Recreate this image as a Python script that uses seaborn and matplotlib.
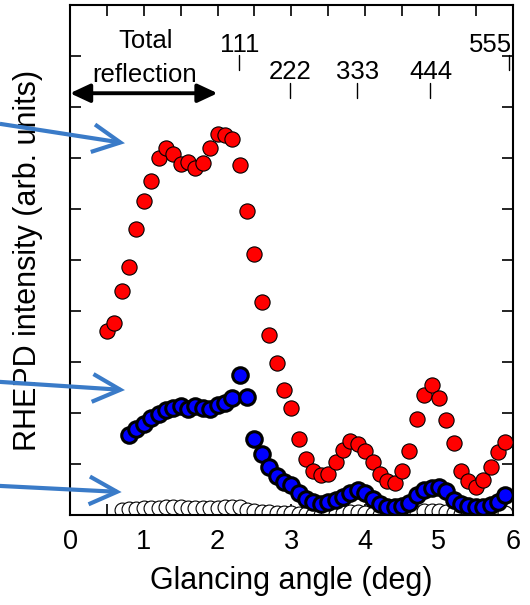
import numpy as np
import pandas as pd
import matplotlib
matplotlib.use("Agg")
import matplotlib.pyplot as plt
import seaborn as sns

# ---------------- data ----------------
red_x = [0.5, 0.6, 0.7, 0.8, 0.9, 1.0, 1.1, 1.2, 1.3, 1.4, 1.5, 1.6, 1.7, 1.8, 1.9,
         2.0, 2.1, 2.2, 2.3, 2.4, 2.5, 2.6, 2.7, 2.8, 2.9, 3.0, 3.1, 3.2, 3.3, 3.4,
         3.5, 3.6, 3.7, 3.8, 3.9, 4.0, 4.1, 4.2, 4.3, 4.4, 4.5, 4.6, 4.7, 4.8, 4.9,
         5.0, 5.1, 5.2, 5.3, 5.4, 5.5, 5.6, 5.7, 5.8, 5.9]
red_y = [3.61, 3.76, 4.40, 4.86, 5.61, 6.16, 6.55, 7.00, 7.19, 7.08, 6.88, 6.93, 6.80,
         6.90, 7.20, 7.47, 7.45, 7.37, 6.86, 5.97, 5.12, 4.18, 3.53, 2.99, 2.46, 2.09,
         1.50, 1.10, 0.86, 0.79, 0.81, 1.03, 1.27, 1.46, 1.39, 1.25, 1.04, 0.81, 0.67,
         0.63, 0.87, 1.26, 1.89, 2.36, 2.54, 2.29, 1.87, 1.41, 0.86, 0.67, 0.55, 0.69,
         0.95, 1.24, 1.44]

blue_x = [0.8, 0.9, 1.0, 1.1, 1.2, 1.3, 1.4, 1.5, 1.6, 1.7, 1.8, 1.9, 2.0, 2.1, 2.2,
          2.3, 2.4, 2.5, 2.6, 2.7, 2.8, 2.9, 3.0, 3.1, 3.2, 3.3, 3.4, 3.5, 3.6, 3.7,
          3.8, 3.9, 4.0, 4.1, 4.2, 4.3, 4.4, 4.5, 4.6, 4.7, 4.8, 4.9, 5.0, 5.1, 5.2,
          5.3, 5.4, 5.5, 5.6, 5.7, 5.8, 5.9]
blue_y = [1.57, 1.68, 1.78, 1.90, 1.98, 2.06, 2.09, 2.14, 2.08, 2.14, 2.09, 2.08, 2.16,
          2.19, 2.29, 2.75, 2.32, 1.50, 1.20, 0.94, 0.76, 0.64, 0.58, 0.44, 0.31, 0.26,
          0.22, 0.25, 0.29, 0.36, 0.44, 0.49, 0.44, 0.31, 0.22, 0.16, 0.16, 0.18, 0.24,
          0.39, 0.50, 0.53, 0.54, 0.48, 0.29, 0.22, 0.18, 0.15, 0.16, 0.20, 0.26, 0.39]

white_x = [0.7, 0.8, 0.9, 1.0, 1.1, 1.2, 1.3, 1.4, 1.5, 1.6, 1.7, 1.8, 1.9, 2.0, 2.1,
           2.2, 2.3, 2.4, 2.5, 2.6, 2.7, 2.8, 2.9, 3.0, 3.1, 3.2, 3.3, 3.4, 3.5, 3.6,
           3.7, 3.8, 3.9, 4.0, 4.1, 4.2, 4.3, 4.4, 4.5, 4.6, 4.7, 4.8, 4.9, 5.0, 5.1,
           5.2, 5.3, 5.4, 5.5, 5.6, 5.7, 5.8, 5.9]
white_y = [0.10, 0.12, 0.12, 0.13, 0.13, 0.14, 0.15, 0.15, 0.15, 0.14, 0.14, 0.13, 0.13,
           0.14, 0.15, 0.16, 0.15, 0.10, 0.08, 0.06, 0.05, 0.04, 0.03, 0.03, 0.02, 0.01,
           0.00, 0.00, 0.00, 0.01, 0.03, 0.05, 0.06, 0.04, 0.02, 0.00, -0.01, -0.01,
           0.00, 0.01, 0.04, 0.07, 0.08, 0.08, 0.06, 0.03, 0.01, 0.00, 0.00, 0.00, 0.00,
           0.01, 0.03]

x_ticks = [0, 1, 2, 3, 4, 5, 6]
x_tick_labels = ["0", "1", "2", "3", "4", "5", "6"]

peak_labels = ["111", "222", "333", "444", "555"]
peak_pos = [2.29, 2.98, 3.89, 4.88, 5.95]
peak_row = ["upper", "lower", "lower", "lower", "upper"]

# ---------------- styling ----------------
sns.set_style("ticks")
plt.rcParams["font.family"] = ["Liberation Sans", "DejaVu Sans"]
plt.rcParams["text.color"] = "black"
plt.rcParams["axes.labelcolor"] = "black"
plt.rcParams["xtick.color"] = "black"
plt.rcParams["ytick.color"] = "black"
plt.rcParams["axes.edgecolor"] = "black"

fig = plt.figure(figsize=(5.30, 6.05), dpi=100)
ax = fig.add_axes([70 / 530, 90 / 605, 442.7 / 530, 510 / 605])

df_w = pd.DataFrame({"x": white_x, "y": white_y})
df_b = pd.DataFrame({"x": blue_x, "y": blue_y})
df_r = pd.DataFrame({"x": red_x, "y": red_y})

sns.scatterplot(data=df_w, x="x", y="y", ax=ax, s=115, color="white",
                edgecolor="black", linewidth=0.8, zorder=2, legend=False)
sns.scatterplot(data=df_b, x="x", y="y", ax=ax, s=125, color="#0000ff",
                edgecolor="black", linewidth=2.2, zorder=3, legend=False)
sns.scatterplot(data=df_r, x="x", y="y", ax=ax, s=120, color="#ff0000",
                edgecolor="black", linewidth=0.8, zorder=4, legend=False)

ax.set_xlim(0, 6)
ax.set_ylim(0, 10)
ax.set_xticks(x_ticks)
ax.set_xticklabels(x_tick_labels)
ax.set_xticks(np.arange(0.5, 6, 1.0), minor=True)
ax.set_yticks(np.arange(1, 10))
ax.set_yticklabels([])

for s in ax.spines.values():
    s.set_linewidth(1.5)
    s.set_color("black")
    s.set_visible(True)

ax.tick_params(axis="both", which="both", direction="in", top=True, right=True,
               width=1.2, length=8, color="black", labelcolor="black")
ax.tick_params(axis="x", which="major", labelsize=19.5, pad=10)

ax.set_xlabel("Glancing angle (deg)", fontsize=22, labelpad=8, color="black")
ax.set_ylabel("RHEPD intensity (arb. units)", fontsize=22, labelpad=16, color="black")

ann_fs = 18.5

# Total reflection annotation
ax.annotate("", xy=(0.0, 8.27), xytext=(2.0, 8.27),
            arrowprops=dict(arrowstyle="<|-|>,head_length=0.6,head_width=0.28",
                            mutation_scale=20, lw=2.8, color="black",
                            shrinkA=0, shrinkB=0),
            annotation_clip=False, zorder=6)
ax.text(1.02, 9.15, "Total", ha="center", va="baseline", fontsize=ann_fs, color="black")
ax.text(1.01, 8.50, "reflection", ha="center", va="baseline", fontsize=ann_fs,
        color="black")

# peak markers
for lab, pos, row in zip(peak_labels, peak_pos, peak_row):
    if row == "upper":
        ax.plot([pos, pos], [8.73, 9.02], color="black", lw=1.0, clip_on=False)
        ypos = 9.08
    else:
        ax.plot([pos, pos], [8.18, 8.47], color="black", lw=1.0, clip_on=False)
        ypos = 8.54
    if lab == "555":
        ax.text(5.99, ypos, lab, ha="right", va="baseline", fontsize=ann_fs, color="black")
    else:
        ax.text(pos + 0.01, ypos, lab, ha="center", va="baseline", fontsize=ann_fs,
                color="black")

# blue pointer arrows
arrow_color = "#3a7bc8"
for (x0, y0), (x1, y1) in [((-0.95, 7.67), (0.745, 7.29)),
                           ((-0.95, 2.61), (0.745, 2.45)),
                           ((-0.95, 0.57), (0.70, 0.45))]:
    ax.annotate("", xy=(x1, y1), xytext=(x0, y0),
                arrowprops=dict(arrowstyle="->,head_length=1.0,head_width=0.5",
                                mutation_scale=20, lw=3.0, color=arrow_color,
                                shrinkA=0, shrinkB=0, capstyle="butt",
                                joinstyle="miter"),
                annotation_clip=False, zorder=10)

fig.savefig("out.png", dpi=100)
